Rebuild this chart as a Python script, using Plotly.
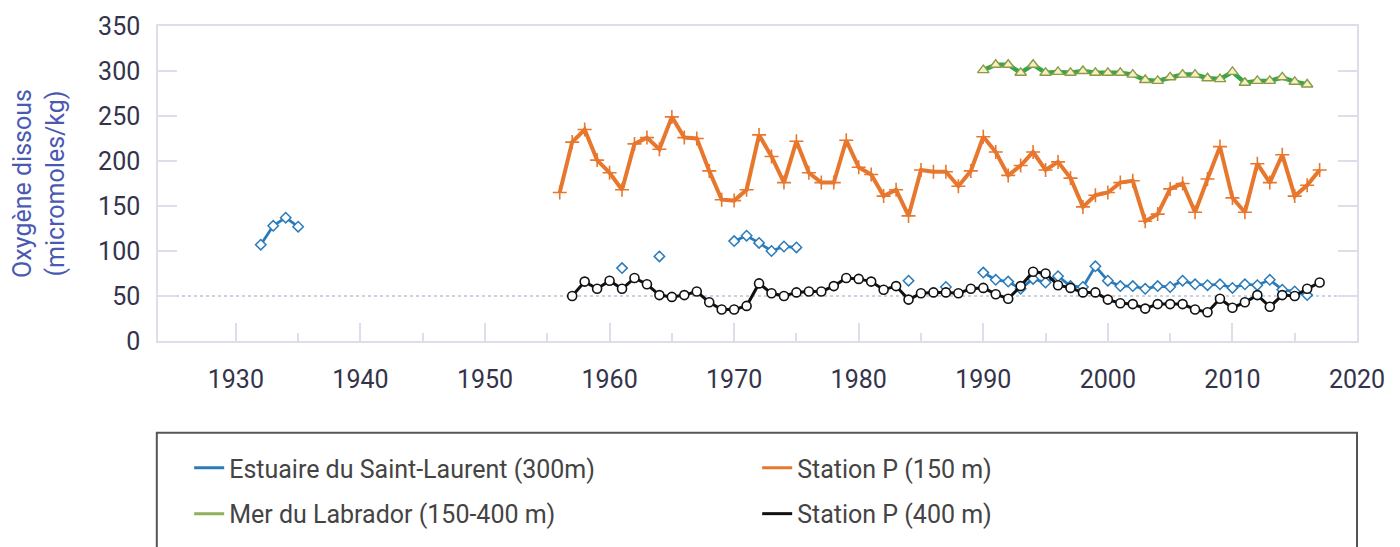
import plotly.graph_objects as go

# Estuaire du Saint-Laurent (300m) -- None breaks the line between survey periods
estuaire_years = [1932, 1933, 1934, 1935, 1936,
                  1961, 1962, 1964, 1965,
                  1970, 1971, 1972, 1973, 1974, 1975, 1976,
                  1984, 1985, 1987, 1988,
                  1990, 1991, 1992, 1993, 1994, 1995, 1996, 1997, 1998, 1999,
                  2000, 2001, 2002, 2003, 2004, 2005, 2006, 2007, 2008, 2009,
                  2010, 2011, 2012, 2013, 2014, 2015, 2016]
estuaire_vals = [107, 128, 137, 127, None,
                 81, None, 94, None,
                 111, 117, 109, 100, 105, 104, None,
                 67, None, 60, None,
                 76, 68, 66, 58, 69, 65, 72, 61, 60, 83,
                 67, 61, 61, 58, 61, 60, 67, 63, 62, 63,
                 59, 63, 62, 68, 57, 55, 51]

# Station P (150 m)
stp150_years = list(range(1956, 2018))
stp150_vals = [165, 221, 235, 201, 187, 168, 219, 226, 213, 249,
               226, 225, 189, 157, 156, 168, 229, 205, 176, 222,
               187, 176, 176, 223, 193, 185, 161, 168, 139, 190,
               188, 188, 172, 189, 227, 210, 184, 195, 210, 190,
               199, 181, 149, 162, 165, 176, 178, 133, 141, 169,
               175, 143, 180, 216, 159, 143, 197, 176, 207, 161,
               173, 190]

# Mer du Labrador (150-400 m)
labrador_years = list(range(1990, 2017))
labrador_vals = [301, 307, 307, 298, 307, 298, 299, 298, 300, 298,
                 298, 298, 296, 290, 289, 293, 296, 296, 292, 291,
                 299, 287, 289, 289, 293, 288, 285]

# Station P (400 m)
stp400_years = list(range(1957, 2018))
stp400_vals = [50, 66, 58, 67, 58, 70, 63, 51, 49, 51,
               55, 43, 35, 35, 39, 64, 53, 50, 54, 55,
               55, 61, 70, 69, 66, 57, 61, 46, 53, 54,
               54, 53, 58, 59, 52, 47, 61, 77, 75, 62,
               59, 54, 54, 46, 42, 41, 36, 41, 41, 41,
               35, 32, 47, 37, 43, 51, 38, 51, 50, 58,
               65]

x_major = [1930, 1940, 1950, 1960, 1970, 1980, 1990, 2000, 2010, 2020]
x_minor = [1935, 1945, 1955, 1965, 1975, 1985, 1995, 2005, 2015]
y_ticks = [0, 50, 100, 150, 200, 250, 300, 350]

BLUE = "#2b7bba"
ORANGE = "#e8772e"
GREEN = "#2ea84a"
BLACK = "#111111"
FRAME = "#dcdfea"

fig = go.Figure()

fig.add_trace(go.Scatter(x=estuaire_years, y=estuaire_vals, mode="lines+markers",
                         line=dict(color=BLUE, width=2.8),
                         marker=dict(symbol="diamond", size=8, color="white",
                                     line=dict(color=BLUE, width=1.5)),
                         showlegend=False))
fig.add_trace(go.Scatter(x=stp150_years, y=stp150_vals, mode="lines+markers",
                         line=dict(color=ORANGE, width=4),
                         marker=dict(symbol="cross-thin", size=10,
                                     line=dict(color=ORANGE, width=1.6)),
                         showlegend=False))
fig.add_trace(go.Scatter(x=labrador_years, y=labrador_vals, mode="lines+markers",
                         line=dict(color=GREEN, width=4.5),
                         marker=dict(symbol="triangle-up", size=10, color="#f4f1c6",
                                     line=dict(color="#8c9a45", width=1.4)),
                         showlegend=False))
fig.add_trace(go.Scatter(x=stp400_years, y=stp400_vals, mode="lines+markers",
                         line=dict(color=BLACK, width=3),
                         marker=dict(symbol="circle", size=9, color="white",
                                     line=dict(color=BLACK, width=1.6)),
                         showlegend=False))

# legend entries (line only, as in the original)
legend_items = [("Estuaire du Saint-Laurent (300m)", "#2b7bba", "legend"),
                ("Station P (150 m)", "#e8772e", "legend"),
                ("Mer du Labrador (150-400 m)", "#8db05a", "legend2"),
                ("Station P (400 m)", "#111111", "legend2")]
for name, color, lg in legend_items:
    fig.add_trace(go.Scatter(x=[None], y=[None], mode="lines", name=name,
                             line=dict(color=color, width=3), legend=lg))

# dotted reference line at 50
fig.add_shape(type="line", xref="paper", yref="y", x0=0, x1=1, y0=50, y1=50,
              line=dict(color="#b9c3d6", width=1.5, dash="dot"), layer="below")

# legend frame
fig.add_shape(type="rect", xref="paper", yref="paper", x0=-0.001, x1=1.0,
              y0=-0.75, y1=-0.2915, line=dict(color="#555555", width=2))

legend_style = dict(orientation="h", x=0.026, xanchor="left", yanchor="middle",
                    entrywidth=523, entrywidthmode="pixels",
                    font=dict(family="Roboto", size=25, color="#444444"),
                    bgcolor="rgba(0,0,0,0)", traceorder="normal")

# page body adds an 8px offset, so the figure is 8px smaller on each axis
fig.update_layout(
    width=1392, height=539,
    margin=dict(l=150, r=43, t=18, b=205),
    paper_bgcolor="white", plot_bgcolor="white",
    font=dict(family="Roboto", size=25, color="#33344a"),
    legend=dict(legend_style, y=-0.399),
    legend2=dict(legend_style, y=-0.544),
)

fig.update_xaxes(range=[1923.75, 2020], tickmode="array", tickvals=x_major,
                 ticks="inside", ticklen=18, tickwidth=1.5, tickcolor=FRAME,
                 showline=True, linecolor=FRAME, linewidth=1.5, mirror=True,
                 showgrid=False, zeroline=False, ticklabelstandoff=15,
                 automargin=False,
                 minor=dict(tickmode="array", tickvals=x_minor, ticks="inside",
                            ticklen=8, tickwidth=1.5, tickcolor=FRAME, showgrid=False))
fig.update_yaxes(range=[0, 350], tickmode="array", tickvals=y_ticks,
                 ticks="inside", ticklen=19, tickwidth=1.5, tickcolor=FRAME,
                 showline=True, linecolor=FRAME, linewidth=1.5, mirror="ticks",
                 showgrid=False, zeroline=False, ticklabelstandoff=11,
                 automargin=False,
                 title=dict(text="Oxygène dissous<br>(micromoles/kg)", standoff=30,
                            font=dict(family="Roboto", size=25, color="#4a5ab4")))

fig.write_html("out.html")
